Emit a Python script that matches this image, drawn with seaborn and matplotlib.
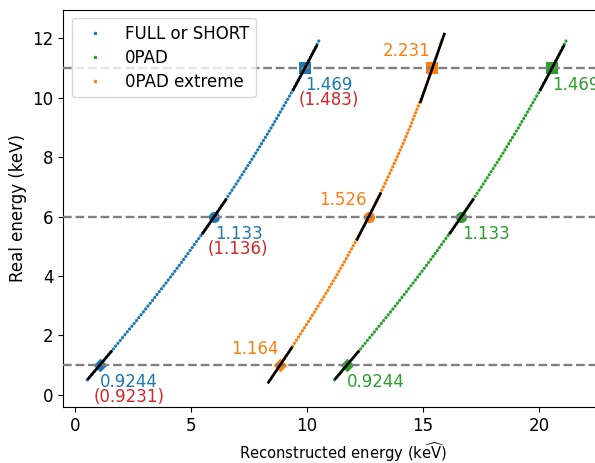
import numpy as np
import pandas as pd
import matplotlib
matplotlib.use("Agg")
import matplotlib.pyplot as plt
from matplotlib.lines import Line2D
import seaborn as sns

plt.rcParams['font.family'] = ['DejaVu Sans']
plt.rcParams['font.size'] = 12

# ---- data ----
real_energy = [0.5, 1.0, 1.5, 2.0, 2.5, 3.0, 3.5, 4.0, 4.5, 5.0, 5.5, 6.0,
               6.5, 7.0, 7.5, 8.0, 8.5, 9.0, 9.5, 10.0, 10.5, 11.0, 11.5, 12.0]
rec_full = [0.54, 1.08, 1.62, 2.14, 2.66, 3.17, 3.67, 4.16, 4.64, 5.10, 5.56, 6.01,
            6.44, 6.87, 7.28, 7.69, 8.08, 8.47, 8.84, 9.21, 9.56, 9.91, 10.24, 10.57]
rec_0pad = [11.18, 11.72, 12.26, 12.78, 13.30, 13.81, 14.31, 14.80, 15.28, 15.74, 16.20, 16.65,
            17.08, 17.51, 17.92, 18.33, 18.72, 19.11, 19.48, 19.85, 20.20, 20.55, 20.88, 21.21]
rec_0pad_ext = [8.41, 8.84, 9.27, 9.68, 10.09, 10.49, 10.88, 11.26, 11.63, 11.98, 12.33, 12.66,
                12.98, 13.29, 13.59, 13.88, 14.16, 14.43, 14.68, 14.93, 15.17, 15.40, 15.62, 15.83]

series_names = ["FULL or SHORT", "0PAD", "0PAD extreme"]
series_colors = ["tab:blue", "tab:green", "tab:orange"]

ref_energy = [1, 6, 11]
ref_markers = ["D", "o", "s"]
ref_marker_sizes = [7, 8, 8]
marker_rec = {
    "FULL or SHORT": [1.08, 6.01, 9.91],
    "0PAD": [11.72, 16.65, 20.55],
    "0PAD extreme": [8.84, 12.66, 15.40],
}
slopes = {
    "FULL or SHORT": [0.9244, 1.133, 1.469],
    "0PAD": [0.9244, 1.133, 1.469],
    "0PAD extreme": [1.164, 1.526, 2.231],
}
slope_labels = {
    "FULL or SHORT": ["0.9244", "1.133", "1.469"],
    "0PAD": ["0.9244", "1.133", "1.469"],
    "0PAD extreme": ["1.164", "1.526", "2.231"],
}
alt_labels = ["(0.9231)", "(1.136)", "(1.483)"]

curves = {
    "FULL or SHORT": rec_full,
    "0PAD": rec_0pad,
    "0PAD extreme": rec_0pad_ext,
}

df = pd.concat([
    pd.DataFrame({"rec": curves[n], "real": real_energy, "series": n})
    for n in series_names
], ignore_index=True)

fig = plt.figure(figsize=(5.95, 4.63), dpi=100)
ax = fig.add_axes([63.3 / 595, 56 / 463, (622 - 63.3) / 595, (407 - 9.7) / 463])

for name, col in zip(series_names, series_colors):
    sub = df[df["series"] == name]
    sns.lineplot(data=sub, x="rec", y="real", ax=ax, color=col, sort=False,
                 estimator=None, linewidth=2.3, linestyle=(0, (0.05, 1.1)),
                 dash_capstyle="round", zorder=2, legend=False)

half = 0.53
for name, col in zip(series_names, series_colors):
    for i, (e, m, ms) in enumerate(zip(ref_energy, ref_markers, ref_marker_sizes)):
        x0 = marker_rec[name][i]
        sns.scatterplot(x=[x0], y=[e], marker=m, s=ms ** 2, color=col,
                        edgecolor=col, linewidth=0, zorder=3, ax=ax, legend=False)
        s = slopes[name][i]
        ax.plot([x0 - half, x0 + half], [e - s * half, e + s * half],
                color="black", lw=1.9, zorder=5, solid_capstyle="butt")
        if name == "0PAD extreme":
            ax.annotate(slope_labels[name][i], (x0, e), xytext=(-1.2, 8.3),
                        textcoords="offset points", ha="right", va="baseline",
                        color=col, fontsize=12)
        else:
            ax.annotate(slope_labels[name][i], (x0, e), xytext=(0.3, -5.8),
                        textcoords="offset points", ha="left", va="top",
                        color=col, fontsize=12)
            if name == "FULL or SHORT":
                ax.annotate(alt_labels[i], (x0, e), xytext=(-4.6, -16.6),
                            textcoords="offset points", ha="left", va="top",
                            color="tab:red", fontsize=12)

for e in ref_energy:
    ax.axhline(e, color="gray", ls="--", lw=1.7, zorder=4)

ax.set_xlim(-0.49, 23.56)
ax.set_ylim(-0.41, 12.96)
ax.set_xticks([0, 5, 10, 15, 20])
ax.set_yticks([0, 2, 4, 6, 8, 10, 12])
ax.set_xlabel(r"Reconstructed energy (k$\widehat{\mathrm{eV}}$)", fontsize=10.6)
ax.set_ylabel("Real energy (keV)")

handles = [Line2D([], [], ls="none", marker=".", markersize=3, color=c)
           for c in series_colors]
ax.legend(handles, series_names, loc="upper left", fontsize=12, labelspacing=0.36)

fig.savefig("out.png", dpi=100)
